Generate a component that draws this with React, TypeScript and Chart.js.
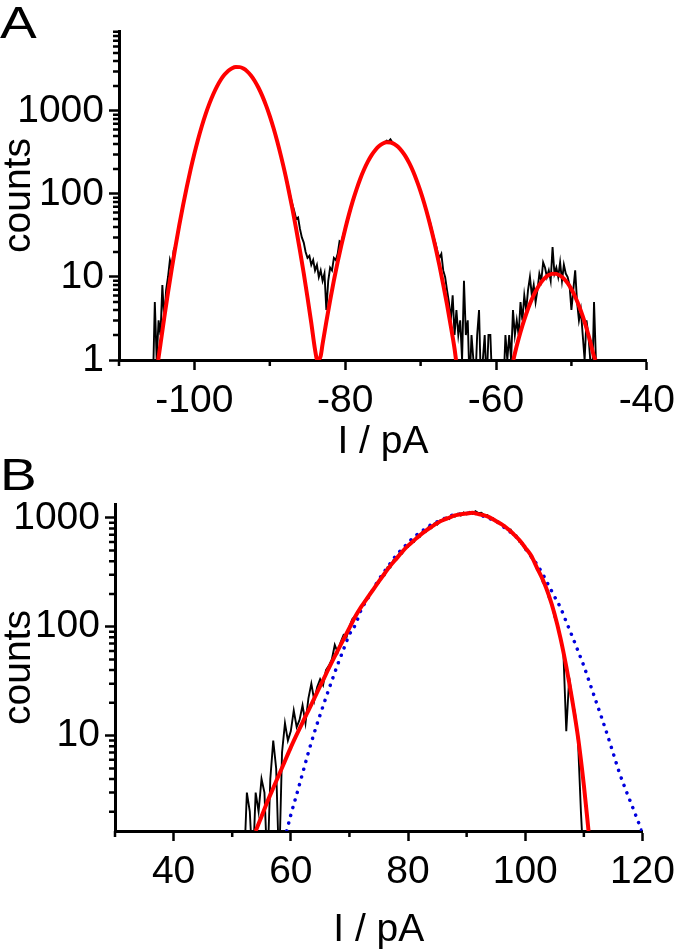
import React, { useEffect, useRef } from 'react';
import { Chart, registerables } from 'chart.js';

Chart.register(...registerables);

const FONT = '"Liberation Sans", Arial, Helvetica, sans-serif';
const RED = '#ff0000';
const BLUE = '#0000dd';

// ---------------- Panel A ----------------
// histogram bins (pA), counts
const A_BIN_START = -105.5;
const A_BIN_WIDTH = 0.25;
const countsA = [
  0, 5, 1, 3, 2, 8, 3, 7, 10, 16, 13, 21, 24, 34, 40, 55,
  70, 98, 120, 160, 195, 250, 300, 380, 470, 560, 660, 790, 930, 1080, 1230, 1420,
  1590, 1800, 1990, 2180, 2370, 2580, 2750, 2900, 3050, 3180, 3280, 3350, 3400, 3390, 3370, 3320,
  3240, 3130, 2990, 2850, 2680, 2490, 2300, 2100, 1900, 1710, 1520, 1340, 1170, 1010, 870, 740,
  620, 520, 430, 350, 285, 225, 185, 150, 118, 92, 75, 62, 50, 52, 38, 30,
  26, 20, 17, 18, 14, 16, 12, 14, 10, 12, 9, 11, 4, 9, 13, 12,
  17, 16, 19, 27, 26, 33, 38, 48, 57, 68, 82, 98, 113, 133, 152, 176,
  198, 220, 246, 270, 294, 318, 340, 360, 380, 393, 408, 415, 440, 430, 455, 420,
  405, 385, 372, 350, 330, 305, 285, 258, 236, 210, 190, 166, 146, 124, 108, 92,
  78, 64, 54, 46, 37, 30, 25, 20, 17, 19, 12, 10, 7, 5, 3, 6,
  2, 4, 2, 3, 1, 9, 2, 3, 0, 2, 1, 0, 2, 4, 0, 1,
  2, 0, 2, 2, 0, 0, 0, 0, 0, 0, 0, 2, 1, 2, 1, 4,
  2, 3, 2, 5, 3, 6, 4, 7, 10, 6, 8, 5, 7, 11, 9, 15,
  13, 10, 12, 9, 23, 11, 13, 10, 15, 9, 14, 11, 10, 8, 4, 7,
  12, 5, 3, 4, 2, 1, 3, 2, 1, 0, 5, 1, 0,
];
// red fit curve
const fitAx = [
  -104.8, -104.5, -104, -103.5, -103, -102.5, -102, -101.5, -101, -100.5, -100, -99.5, -99, -98.5,
  -98, -97.5, -97, -96.5, -96, -95.5, -95, -94.5, -94, -93.5, -93, -92.5, -92, -91.5, -91, -90.5,
  -90, -89.5, -89, -88.5, -88, -87.5, -87, -86.5, -86, -85.5, -85, -84.5, -84, -83.7, -83.25, -83,
  -82.5, -82, -81.5, -81, -80.5, -80, -79.5, -79, -78.5, -78, -77.5, -77, -76.5, -76, -75.5, -75,
  -74.5, -74, -73.5, -73, -72.5, -72, -71.5, -71, -70.5, -70, -69.5, -69, -68.5, -68, -67.5, -67,
  -66.5, -66, -65.5, -65.3, -61,
  -57.7, -57.5, -57, -56.5, -56, -55.5, -55, -54.5, -54, -53.5, -53, -52.5, -52, -51.5, -51, -50.5,
  -50, -49.5, -49, -48.5, -48, -47.5, -47, -46.8,
];
const fitAy = [
  1.0, 1.55, 3.23, 6.5, 12.6, 23.5, 42.4, 73.5, 123, 198, 307, 460, 664, 923,
  1236, 1594, 1983, 2380, 2747, 3057, 3280, 3390, 3378, 3243, 3000, 2676, 2300, 1905, 1520, 1169,
  867, 619, 426, 282, 181, 111, 66, 37.8, 20.8, 11.1, 5.67, 2.8, 1.33, 1.0, 1.12, 1.56,
  2.9, 5.23, 9.1, 15.2, 24.4, 37.9, 56.8, 82, 114, 153, 197, 245, 294, 339, 378, 405,
  419, 417, 400, 371, 330, 284, 235, 188, 144, 107, 76.4, 52.6, 34.9, 22.3, 13.7, 8.1,
  4.67, 2.57, 1.37, 1.0, null,
  1.0, 1.2, 1.8, 2.59, 3.58, 4.75, 6.05, 7.39, 8.67, 9.77, 10.56, 10.96, 10.9, 10.4, 9.57, 8.43,
  7.12, 5.78, 4.5, 3.37, 2.41, 1.66, 1.1, 1.0,
];
const xTicksA = [-100, -80, -60, -40];
const xMinorA = [-110, -90, -70, -50];
const yTicksA = [1, 10, 100, 1000];
const yMinorA = [2, 3, 4, 5, 6, 7, 8, 9, 20, 30, 40, 50, 60, 70, 80, 90, 200, 300, 400, 500, 600, 700, 800, 900,
  2000, 3000, 4000, 5000, 6000, 7000, 8000, 9000];

// ---------------- Panel B ----------------
const B_BIN_START = 52;
const B_BIN_WIDTH = 0.5;
const countsB = [
  0, 3, 2, 0, 3, 2, 4, 3, 0, 4, 9, 5, 0, 7, 13, 9,
  11, 17, 12, 14, 19, 13, 22, 30, 21, 28, 33, 29, 40, 44, 50, 68,
  58, 72, 84, 80, 100, 118, 126, 140, 150, 170, 178, 205, 212, 245, 252, 292,
  296, 352, 350, 408, 410, 468, 470, 535, 538, 598, 600, 672, 668, 750, 738, 820,
  805, 890, 868, 950, 935, 1010, 975, 1050, 1025, 1090, 1050, 1120, 1075, 1135, 1090, 1150,
  1105, 1115, 1060, 1065, 1000, 995, 935, 925, 865, 850, 775, 780, 695, 690, 600, 590,
  510, 505, 430, 405, 335, 315, 255, 240, 185, 166, 122, 104, 78, 60, 11, 34,
  22, 16, 9, 2, 0,
];
// red fit
const fitBx = [
  54, 55, 56, 57, 58, 59, 60, 61, 62, 63, 64, 65, 66, 67, 68, 69, 70, 71, 72, 73, 74, 75, 76, 77,
  78, 79, 80, 81, 82, 83, 84, 85, 86, 87, 88, 89, 90, 91, 92, 93, 94, 95, 96, 97, 98, 99, 100,
  101, 102, 103, 104, 105, 106, 107, 108, 109, 110, 110.8,
];
const fitBy = [
  1.33, 1.81, 2.47, 3.3, 4.39, 5.85, 7.8, 10.2, 13.2, 17, 22, 28.4, 36.7, 47.4, 60.4, 76.7, 97.5,
  124, 152, 182, 217, 259, 308, 364, 421, 487, 555, 619, 690, 760, 826, 895, 955, 1002, 1052,
  1081, 1096, 1112, 1081, 1052, 1005, 935, 871, 794, 710, 625, 533, 450, 348, 270, 196, 131,
  79, 43, 21.4, 9.7, 3.5, 1.33,
];
// blue dotted gaussian
const gaussBx = [
  59.3, 60, 61, 62, 63, 64, 65, 66, 67, 68, 69, 70, 71, 72, 73, 74, 75, 76, 77, 78, 79, 80, 81,
  82, 83, 84, 85, 86, 87, 88, 89, 90, 91, 92, 93, 94, 95, 96, 97, 98, 99, 100, 101, 102, 103,
  104, 105, 106, 107, 108, 109, 110, 111, 112, 113, 114, 115, 116, 117, 118, 119, 119.9,
];
const gaussBy = [
  1.33, 1.87, 2.88, 4.49, 7.0, 10.6, 15.5, 22.4, 31.9, 45, 62, 85, 104, 143, 177, 219, 270, 323,
  383, 454, 517, 588, 667, 731, 798, 871, 921, 975, 1030, 1074, 1086, 1101, 1109, 1079, 1028,
  980, 933, 849, 771, 701, 624, 525, 443, 373, 303, 239, 189, 150, 111, 82, 60, 43.6, 30.4,
  21.2, 14.8, 10.2, 6.9, 4.67, 3.33, 2.43, 1.77, 1.33,
];
const xTicksB = [40, 60, 80, 100, 120];
const xMinorB = [30, 50, 70, 90, 110];
const yTicksB = [10, 100, 1000];
const yMinorB = [2, 3, 4, 5, 6, 7, 8, 9, 20, 30, 40, 50, 60, 70, 80, 90, 200, 300, 400, 500, 600, 700, 800, 900];

// ------------------------------------------------
const histPoints = (start: number, width: number, counts: number[], floor: number) =>
  counts.map((c, i) => ({ x: start + i * width, y: c > 0 ? c : floor }));
const xyPoints = (xs: number[], ys: (number | null)[]) => xs.map((x, i) => ({ x, y: ys[i] }));

function makeMinorTicks(xMinor: number[], yMinor: number[]) {
  return {
    id: 'minorTicks',
    afterDraw(chart: any) {
      const { ctx, chartArea, scales } = chart;
      ctx.save();
      ctx.strokeStyle = '#000';
      ctx.lineWidth = 2.5;
      ctx.beginPath();
      xMinor.forEach((v) => {
        const px = scales.x.getPixelForValue(v);
        ctx.moveTo(px, chartArea.bottom);
        ctx.lineTo(px, chartArea.bottom + 6);
      });
      yMinor.forEach((v) => {
        const py = scales.y.getPixelForValue(v);
        if (py < chartArea.top - 1 || py > chartArea.bottom + 1) return;
        ctx.moveTo(chartArea.left, py);
        ctx.lineTo(chartArea.left - 6, py);
      });
      ctx.stroke();
      ctx.restore();
    },
  };
}

type Spec = {
  height: number;
  padTop: number;
  padRight: number;
  yWidth: number;
  xHeight: number;
  xMin: number;
  xMax: number;
  yMin: number;
  yMax: number;
  xTicks: number[];
  xMinor: number[];
  yTicks: number[];
  yMinor: number[];
  xTickPad: number;
  yTickPad: number;
  xTitleLH: number;
  xTitlePad: number;
  datasets: any[];
};

function buildConfig(s: Spec): any {
  const tickFont = { family: FONT, size: 39 };
  const grid = {
    display: true,
    drawOnChartArea: false,
    drawTicks: true,
    tickLength: 10,
    tickWidth: 2.5,
    tickColor: '#000',
  };
  const border = { display: true, width: 3, color: '#000' };
  return {
    type: 'line',
    data: { datasets: s.datasets },
    options: {
      animation: false,
      responsive: false,
      events: [],
      layout: { padding: { top: s.padTop, right: s.padRight, left: 0, bottom: 0 } },
      plugins: { legend: { display: false }, tooltip: { enabled: false } },
      elements: { point: { radius: 0 } },
      scales: {
        x: {
          type: 'linear',
          position: 'bottom',
          min: s.xMin,
          max: s.xMax,
          grid,
          border,
          afterFit: (sc: any) => {
            sc.height = s.xHeight;
          },
          afterBuildTicks: (sc: any) => {
            sc.ticks = s.xTicks.map((v) => ({ value: v }));
          },
          ticks: {
            color: '#000',
            font: tickFont,
            padding: s.xTickPad,
            maxRotation: 0,
            autoSkip: false,
            callback: (v: any) => String(v),
          },
          title: {
            display: true,
            text: 'I / pA',
            color: '#000',
            font: { family: FONT, size: 39, lineHeight: s.xTitleLH },
            padding: { top: 0, bottom: s.xTitlePad },
          },
        },
        y: {
          type: 'logarithmic',
          position: 'left',
          min: s.yMin,
          max: s.yMax,
          grid,
          border,
          afterFit: (sc: any) => {
            sc.width = s.yWidth;
          },
          afterBuildTicks: (sc: any) => {
            sc.ticks = s.yTicks.map((v) => ({ value: v }));
          },
          ticks: {
            color: '#000',
            font: tickFont,
            padding: s.yTickPad,
            autoSkip: false,
            callback: (v: any) => String(v),
          },
          title: {
            display: true,
            text: 'counts',
            color: '#000',
            font: { family: FONT, size: 39, lineHeight: 1 },
            padding: { top: 0, bottom: 0 },
          },
        },
      },
    },
    plugins: [makeMinorTicks(s.xMinor, s.yMinor)],
  };
}

const specA: Spec = {
  height: 470,
  padTop: 31,
  padRight: 28,
  yWidth: 119,
  xHeight: 110,
  xMin: -110,
  xMax: -40,
  yMin: 1,
  yMax: 9200,
  xTicks: xTicksA,
  xMinor: xMinorA,
  yTicks: yTicksA,
  yMinor: yMinorA,
  xTickPad: 8,
  yTickPad: 5,
  xTitleLH: 1.2,
  xTitlePad: 4,
  datasets: [
    {
      label: 'fit',
      data: xyPoints(fitAx, fitAy),
      borderColor: RED,
      borderWidth: 4,
      pointRadius: 0,
      cubicInterpolationMode: 'monotone',
      spanGaps: false,
      fill: false,
    },
    {
      label: 'counts',
      data: histPoints(A_BIN_START, A_BIN_WIDTH, countsA, 0.5),
      borderColor: '#000',
      borderWidth: 1.9,
      pointRadius: 0,
      tension: 0,
      fill: false,
    },
  ],
};

const specB: Spec = {
  height: 480,
  padTop: 34,
  padRight: 34,
  yWidth: 115,
  xHeight: 119,
  xMin: 30,
  xMax: 120,
  yMin: 1.33,
  yMax: 1340,
  xTicks: xTicksB,
  xMinor: xMinorB,
  yTicks: yTicksB,
  yMinor: yMinorB,
  xTickPad: 8,
  yTickPad: 5,
  xTitleLH: 1.0,
  xTitlePad: 0,
  datasets: [
    {
      label: 'fit',
      data: xyPoints(fitBx, fitBy),
      borderColor: RED,
      borderWidth: 4,
      pointRadius: 0,
      cubicInterpolationMode: 'monotone',
      fill: false,
    },
    {
      label: 'gauss',
      data: xyPoints(gaussBx, gaussBy),
      borderColor: BLUE,
      borderWidth: 3.5,
      borderDash: [0.1, 7.9],
      borderCapStyle: 'round',
      pointRadius: 0,
      cubicInterpolationMode: 'monotone',
      fill: false,
    },
    {
      label: 'counts',
      data: histPoints(B_BIN_START, B_BIN_WIDTH, countsB, 0.6),
      borderColor: '#000',
      borderWidth: 1.9,
      pointRadius: 0,
      tension: 0,
      fill: false,
    },
  ],
};

function ChartCanvas({ spec, top }: { spec: Spec; top: number }) {
  const ref = useRef<HTMLCanvasElement | null>(null);
  useEffect(() => {
    if (!ref.current) return;
    const chart = new Chart(ref.current, buildConfig(spec));
    return () => chart.destroy();
  }, [spec]);
  return (
    <canvas
      ref={ref}
      width={683}
      height={spec.height}
      style={{ position: 'absolute', left: 0, top, width: 683, height: spec.height }}
    />
  );
}

const letterStyle: React.CSSProperties = {
  position: 'absolute',
  left: 0,
  fontFamily: FONT,
  fontSize: 44,
  lineHeight: 1,
  color: '#000',
  transform: 'scaleX(1.25)',
  transformOrigin: 'left top',
};

export default function App() {
  return (
    <div style={{ position: 'absolute', left: 0, top: 0, width: 683, height: 950, background: '#fff', overflow: 'hidden' }}>
      <ChartCanvas spec={specA} top={0} />
      <ChartCanvas spec={specB} top={470} />
      <div style={{ ...letterStyle, top: 1 }}>A</div>
      <div style={{ ...letterStyle, top: 453 }}>B</div>
    </div>
  );
}
